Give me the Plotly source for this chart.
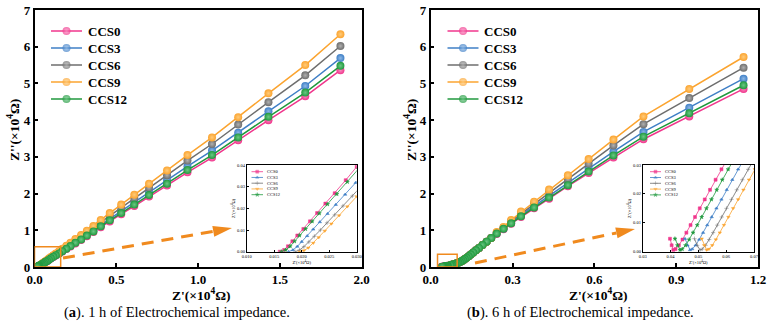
import plotly.graph_objects as go

W, H = 769, 325
SERIES = ["CCS0", "CCS3", "CCS6", "CCS9", "CCS12"]
COLORS = ["#F0368C", "#3F7FC6", "#6E6E6E", "#FBA430", "#20993E"]
LIGHT = ["#F98CC0", "#8DB8E6", "#B0B0B0", "#FFCB7A", "#6CC784"]
INSET_SYMBOLS = ["square", "triangle-up", "cross-thin", "triangle-down", "star"]
BOX_ORANGE = "#F08A1E"
FONT = "Liberation Serif"

# ---------------- panel (a): 1 h ----------------
A_X = [1.87, 1.655, 1.43, 1.245, 1.085, 0.935, 0.81, 0.70, 0.61, 0.53, 0.46, 0.405, 0.36, 0.32,
       0.285, 0.25, 0.22, 0.195, 0.17, 0.15, 0.13, 0.115, 0.10, 0.088, 0.077, 0.067, 0.058, 0.05,
       0.043, 0.037]
A_Y = {
    "CCS0": [5.36, 4.65, 4.00, 3.45, 2.98, 2.58, 2.22, 1.92, 1.66, 1.44, 1.24, 1.08, 0.95, 0.84,
             0.735, 0.64, 0.56, 0.49, 0.42, 0.365, 0.31, 0.27, 0.23, 0.195, 0.16, 0.135, 0.11,
             0.085, 0.063, 0.046],
    "CCS3": [5.69, 4.93, 4.24, 3.66, 3.17, 2.74, 2.36, 2.04, 1.77, 1.525, 1.32, 1.15, 1.00, 0.89,
             0.78, 0.68, 0.59, 0.52, 0.45, 0.385, 0.33, 0.29, 0.24, 0.21, 0.17, 0.14, 0.12, 0.09,
             0.067, 0.049],
    "CCS6": [6.02, 5.22, 4.49, 3.88, 3.35, 2.90, 2.50, 2.16, 1.87, 1.615, 1.40, 1.22, 1.06, 0.94,
             0.83, 0.72, 0.63, 0.55, 0.475, 0.41, 0.35, 0.30, 0.26, 0.22, 0.18, 0.15, 0.12, 0.095,
             0.07, 0.05],
    "CCS9": [6.34, 5.50, 4.73, 4.08, 3.53, 3.05, 2.63, 2.27, 1.97, 1.70, 1.47, 1.28, 1.12, 0.99,
             0.87, 0.76, 0.66, 0.58, 0.50, 0.43, 0.37, 0.32, 0.27, 0.23, 0.19, 0.16, 0.13, 0.10,
             0.075, 0.055],
    "CCS12": [5.48, 4.75, 4.09, 3.53, 3.05, 2.64, 2.27, 1.96, 1.70, 1.47, 1.27, 1.11, 0.97, 0.855,
              0.75, 0.66, 0.57, 0.50, 0.43, 0.37, 0.32, 0.28, 0.235, 0.20, 0.165, 0.14, 0.11,
              0.087, 0.065, 0.048],
}
# high-frequency part (shown in the inset)
A_IN_X = {
    "CCS0": [0.0160, 0.0168, 0.0175, 0.0183, 0.0192, 0.0203, 0.0215, 0.0228, 0.0243, 0.0260, 0.0280, 0.0300],
    "CCS3": [0.0176, 0.0184, 0.0192, 0.0200, 0.0210, 0.0221, 0.0233, 0.0247, 0.0262, 0.0279, 0.0298, 0.0318],
    "CCS6": [0.0188, 0.0196, 0.0204, 0.0213, 0.0223, 0.0234, 0.0246, 0.0260, 0.0275, 0.0292, 0.0311, 0.0332],
    "CCS9": [0.0196, 0.0204, 0.0212, 0.0221, 0.0231, 0.0242, 0.0254, 0.0268, 0.0283, 0.0300, 0.0319, 0.0340],
    "CCS12": [0.0163, 0.0171, 0.0179, 0.0187, 0.0196, 0.0207, 0.0219, 0.0232, 0.0247, 0.0264, 0.0283, 0.0303],
}
A_IN_Y = {
    "CCS0": [0.0, 0.0008, 0.0025, 0.0048, 0.0075, 0.0105, 0.0140, 0.0178, 0.0222, 0.0270, 0.0330, 0.0392],
    "CCS3": [0.0, 0.0008, 0.0024, 0.0046, 0.0073, 0.0103, 0.0137, 0.0175, 0.0217, 0.0264, 0.0318, 0.0376],
    "CCS6": [0.0, 0.0008, 0.0023, 0.0045, 0.0071, 0.0100, 0.0133, 0.0170, 0.0211, 0.0257, 0.0309, 0.0366],
    "CCS9": [0.0, 0.0005, 0.0018, 0.0040, 0.0066, 0.0096, 0.0129, 0.0167, 0.0208, 0.0255, 0.0307, 0.0364],
    "CCS12": [0.0, 0.0008, 0.0025, 0.0048, 0.0075, 0.0105, 0.0140, 0.0177, 0.0219, 0.0266, 0.0322, 0.0381],
}

# ---------------- panel (b): 6 h ----------------
B_X = [1.147, 0.948, 0.78, 0.67, 0.579, 0.503, 0.434, 0.379, 0.331, 0.295, 0.267, 0.242, 0.222,
       0.205, 0.19, 0.177, 0.166, 0.156, 0.147, 0.139, 0.132, 0.125, 0.119, 0.113, 0.107, 0.101,
       0.095, 0.089, 0.083, 0.077, 0.072]
B_LOW = [0.79, 0.69, 0.60, 0.52, 0.455, 0.395, 0.34, 0.29, 0.25, 0.215, 0.185, 0.16, 0.135, 0.115,
         0.10, 0.085, 0.072, 0.06, 0.05]
B_Y = {
    "CCS0": [4.85, 4.10, 3.48, 2.98, 2.56, 2.20, 1.86, 1.60, 1.36, 1.18, 1.03, 0.90] + B_LOW,
    "CCS3": [5.13, 4.34, 3.68, 3.14, 2.68, 2.30, 1.94, 1.66, 1.41, 1.21, 1.05, 0.92] + B_LOW,
    "CCS6": [5.43, 4.60, 3.89, 3.31, 2.81, 2.40, 2.03, 1.72, 1.46, 1.25, 1.07, 0.93] + B_LOW,
    "CCS9": [5.72, 4.85, 4.10, 3.47, 2.94, 2.50, 2.11, 1.78, 1.51, 1.28, 1.09, 0.95] + B_LOW,
    "CCS12": [4.95, 4.19, 3.55, 3.04, 2.60, 2.23, 1.89, 1.62, 1.38, 1.19, 1.04, 0.91] + B_LOW,
}
B_IN_X = {
    "CCS0": [0.0398, 0.0404, 0.0410, 0.0418, 0.0430, 0.0443, 0.0457, 0.0472, 0.0488, 0.0505, 0.0523, 0.0542, 0.0562, 0.0583, 0.0605],
    "CCS3": [0.0452, 0.0461, 0.0470, 0.0478, 0.0490, 0.0503, 0.0517, 0.0532, 0.0548, 0.0565, 0.0583, 0.0602, 0.0622, 0.0643, 0.0665],
    "CCS6": [0.0486, 0.0496, 0.0506, 0.0514, 0.0526, 0.0539, 0.0553, 0.0568, 0.0584, 0.0601, 0.0619, 0.0638, 0.0658, 0.0679, 0.0701],
    "CCS9": [0.0512, 0.0521, 0.0530, 0.0538, 0.0550, 0.0563, 0.0577, 0.0592, 0.0608, 0.0625, 0.0643, 0.0662, 0.0682, 0.0703, 0.0725],
    "CCS12": [0.0416, 0.0425, 0.0434, 0.0442, 0.0454, 0.0467, 0.0481, 0.0496, 0.0512, 0.0529, 0.0547, 0.0566, 0.0586, 0.0607, 0.0629],
}
B_IN_Y_SHAPE = [0.0045, 0.0022, 0.0006, 0.0009, 0.0022, 0.0042, 0.0066, 0.0092, 0.0120, 0.0150, 0.0181, 0.0214, 0.0249, 0.0285, 0.0322]
B_IN_Y = {s: B_IN_Y_SHAPE for s in SERIES}

# ---------------- layout helpers (pixel -> paper) ----------------
def PX(x):
    return x / W


def PY(y):
    return 1 - y / H


MAIN_Y_DOM = [PY(267), PY(10)]
A_X_DOM = [PX(34.5), PX(361.7)]
B_X_DOM = [PX(430.7), PX(758)]
AIN_X_DOM = [PX(246.7), PX(356.7)]
BIN_X_DOM = [PX(642.7), PX(754)]
IN_Y_DOM = [PY(251.7), PY(165)]

# legend placement (pixels): line start, line end, text x, first row y, row step
LEG_MAIN_A = (51, 82, 86, 31, 17)
LEG_MAIN_B = (447.5, 478.5, 482, 31, 17)
LEG_IN_A = (251.5, 263, 264.5, 171.7, 5.75)
LEG_IN_B = (650, 661, 662.5, 171.7, 5.8)

fig = go.Figure()


def add_panel(xmain, ymain, xin, yin, xa_main, ya_main, xa_in, ya_in):
    for i, s in enumerate(SERIES):
        xs = list(xmain) + list(reversed(xin[s]))
        ys = list(ymain[s]) + list(reversed(yin[s]))
        fig.add_trace(go.Scatter(
            x=xs, y=ys, mode="lines+markers", name=s, showlegend=False,
            xaxis=xa_main, yaxis=ya_main,
            line=dict(color=COLORS[i], width=1.5),
            marker=dict(size=8, color=COLORS[i], line=dict(width=0),
                        gradient=dict(type="radial", color=LIGHT[i])),
        ))
    for i, s in enumerate(SERIES):
        fig.add_trace(go.Scatter(
            x=xin[s], y=yin[s], mode="lines+markers", name=s, showlegend=False,
            xaxis=xa_in, yaxis=ya_in, cliponaxis=True,
            line=dict(color=COLORS[i], width=0.8),
            marker=dict(size=3, color=COLORS[i], symbol=INSET_SYMBOLS[i],
                        line=dict(width=0.5, color=COLORS[i])),
        ))


add_panel(A_X, A_Y, A_IN_X, A_IN_Y, "x", "y", "x2", "y2")
add_panel(B_X, B_Y, B_IN_X, B_IN_Y, "x3", "y3", "x4", "y4")


# custom legends drawn on a full-page pixel overlay axis (x5/y5)
def add_legend(spec, msize, lw, fsize, bold, inset):
    x0, x1, tx, y0, dy = spec
    for i, s in enumerate(SERIES):
        y = y0 + i * dy
        if inset:
            mk = dict(size=[0, msize, 0], color=COLORS[i], symbol=INSET_SYMBOLS[i],
                      line=dict(width=0.5, color=COLORS[i]))
        else:
            mk = dict(size=[0, msize, 0], color=COLORS[i], line=dict(width=0),
                      gradient=dict(type="radial", color=LIGHT[i]))
        fig.add_trace(go.Scatter(x=[x0, (x0 + x1) / 2, x1], y=[y, y, y], mode="lines+markers",
                                 xaxis="x5", yaxis="y5", showlegend=False, hoverinfo="skip",
                                 line=dict(color=COLORS[i], width=lw), marker=mk))
        txt = "<b>{}</b>".format(s) if bold else s
        fig.add_annotation(xref="x5", yref="y5", x=tx, y=y, text=txt, showarrow=False,
                           xanchor="left", yanchor="middle",
                           font=dict(family=FONT, size=fsize, color="black"))


add_legend(LEG_MAIN_A, 8, 1.5, 13, True, False)
add_legend(LEG_MAIN_B, 8, 1.5, 13, True, False)
add_legend(LEG_IN_A, 3, 0.8, 4.5, False, True)
add_legend(LEG_IN_B, 3, 0.8, 4.5, False, True)

tick_font = dict(family=FONT, size=13, color="black", weight="bold")
small_font = dict(family=FONT, size=4.5, color="black")

XT = "<b>Z'(×10<sup>4</sup>Ω)</b>"
YT = "<b>Z''(×10<sup>4</sup>Ω)</b>"
XT_SMALL = "Z'(×10<sup>4</sup>Ω)"
YT_SMALL = "Z''(×10<sup>4</sup>Ω)"


def main_axis(dom, rng, dtick, fmt, anchor):
    return dict(domain=dom, range=rng, dtick=dtick, tick0=0, tickformat=fmt, showgrid=False,
                zeroline=False, showline=True, linecolor="black", linewidth=1.5, mirror=True,
                ticks="inside", ticklen=4, tickwidth=1.5, tickcolor="black", tickfont=tick_font,
                automargin=False, anchor=anchor)


def inset_axis(dom, rng, dtick, fmt, title, anchor):
    return dict(domain=dom, range=rng, dtick=dtick, tick0=0, tickformat=fmt, showgrid=False,
                zeroline=False, showline=True, linecolor="black", linewidth=0.8, mirror=True,
                ticks="inside", ticklen=2, tickwidth=0.6, tickcolor="black", tickfont=small_font,
                automargin=False,
                title=dict(text=title, font=small_font, standoff=1), anchor=anchor)


fig.update_layout(
    width=W, height=H, margin=dict(l=0, r=0, t=0, b=0),
    paper_bgcolor="white", plot_bgcolor="rgba(0,0,0,0)",
    showlegend=False,
    xaxis=main_axis(A_X_DOM, [0, 2], 0.5, ".1f", "y"),
    yaxis=main_axis(MAIN_Y_DOM, [0, 7], 1, "d", "x"),
    xaxis2=inset_axis(AIN_X_DOM, [0.010, 0.030], 0.005, ".3f", XT_SMALL, "y2"),
    yaxis2=inset_axis(IN_Y_DOM, [0, 0.04], 0.01, ".2f", YT_SMALL, "x2"),
    xaxis3=main_axis(B_X_DOM, [0, 1.2], 0.3, ".1f", "y3"),
    yaxis3=main_axis(MAIN_Y_DOM, [0, 7], 1, "d", "x3"),
    xaxis4=inset_axis(BIN_X_DOM, [0.03, 0.07], 0.01, ".2f", XT_SMALL, "y4"),
    yaxis4=inset_axis(IN_Y_DOM, [0, 0.03], 0.01, ".2f", YT_SMALL, "x4"),
    xaxis5=dict(domain=[0, 1], range=[0, W], visible=False, fixedrange=True, anchor="y5"),
    yaxis5=dict(domain=[0, 1], range=[H, 0], visible=False, fixedrange=True, anchor="x5"),
)

# main axis titles (pixel positions)
title_font = dict(family=FONT, size=13.5, color="black")
for (tx, ty) in [(201, 294), (598, 294)]:
    fig.add_annotation(xref="x5", yref="y5", x=tx, y=ty, text=XT, showarrow=False,
                       xanchor="center", yanchor="middle", font=title_font)
for (tx, ty) in [(13, 130), (410, 130)]:
    fig.add_annotation(xref="x5", yref="y5", x=tx, y=ty, text=YT, showarrow=False, textangle=-90,
                       xanchor="center", yanchor="middle", font=title_font)

# zoom boxes
fig.add_shape(type="rect", xref="x", yref="y", x0=0, x1=0.16, y0=0, y1=0.55,
              line=dict(color=BOX_ORANGE, width=1.5))
fig.add_shape(type="rect", xref="x3", yref="y3", x0=0.025, x1=0.097, y0=0, y1=0.35,
              line=dict(color=BOX_ORANGE, width=1.5))


def arrow(x0, y0, x1, y1):
    dx, dy = x1 - x0, y1 - y0
    L = (dx * dx + dy * dy) ** 0.5
    ux, uy = dx / L, dy / L
    bx, by = x1 - 19 * ux, y1 - 19 * uy
    fig.add_shape(type="line", xref="paper", yref="paper",
                  x0=PX(x0), y0=PY(y0), x1=PX(bx), y1=PY(by),
                  line=dict(color=BOX_ORANGE, width=3, dash="12px,8px"))
    c1 = (bx + 5.5 * uy, by - 5.5 * ux)
    c2 = (bx - 5.5 * uy, by + 5.5 * ux)
    path = "M {},{} L {},{} L {},{} Z".format(PX(x1), PY(y1), PX(c1[0]), PY(c1[1]), PX(c2[0]), PY(c2[1]))
    fig.add_shape(type="path", xref="paper", yref="paper", path=path,
                  fillcolor=BOX_ORANGE, line=dict(width=0))


arrow(63, 258, 232, 228)
arrow(475, 263, 635, 229)

cap_font = dict(family=FONT, size=14.5, color="black")
fig.add_annotation(xref="x5", yref="y5", x=177, y=312, showarrow=False, xanchor="center",
                   yanchor="middle", text="(<b>a</b>). 1 h of Electrochemical impedance.", font=cap_font)
fig.add_annotation(xref="x5", yref="y5", x=580, y=312, showarrow=False, xanchor="center",
                   yanchor="middle", text="(<b>b</b>). 6 h of Electrochemical impedance.", font=cap_font)

fig.write_html("out.html")
